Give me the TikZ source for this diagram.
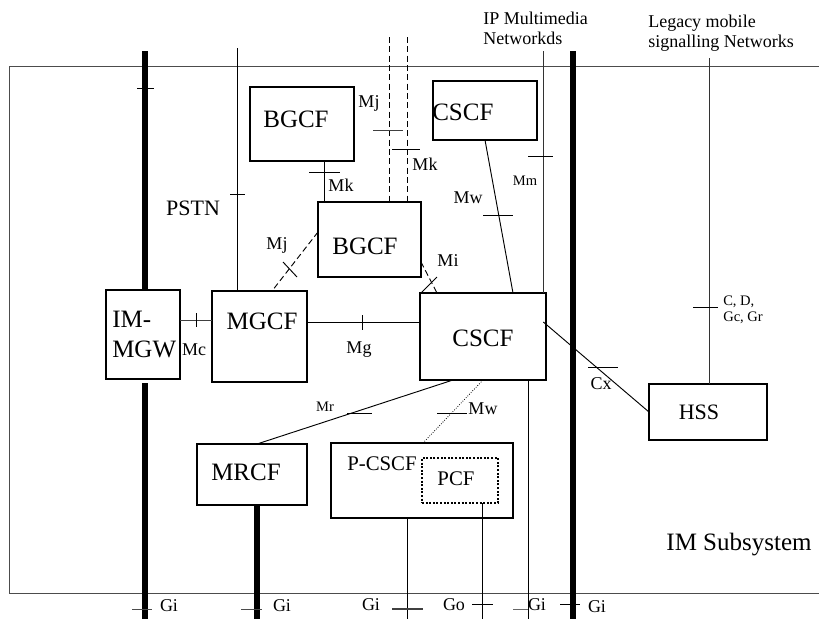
\documentclass[tikz,border=0pt]{standalone}
\usepackage{fontspec}
\setmainfont{Liberation Serif}
\begin{document}
\begin{tikzpicture}[x=0.75pt,y=-0.75pt,
  box/.style={draw, line width=1.1pt, inner sep=0pt, outer sep=0pt},
  conn/.style={line width=0.7pt},
  heavy/.style={line width=4.9pt},
  tickmark/.style={line width=0.7pt},
  dashline/.style={conn, dash pattern=on 4.5pt off 2.5pt},
  dotline/.style={line width=0.6pt, dash pattern=on 0.6pt off 1.2pt},
  pcfbox/.style={draw, line width=1.5pt, dash pattern=on 1.5pt off 1.2pt, inner sep=0pt, outer sep=0pt},
  big/.style={font=\fontsize{18.75}{22.5}\selectfont, inner sep=0pt},
  mid/.style={font=\fontsize{16.5}{19}\selectfont, inner sep=0pt},
  pmid/.style={font=\fontsize{15.6}{18}\selectfont, inner sep=0pt},
  lab/.style={font=\fontsize{13.5}{15}\selectfont, inner sep=0pt},
  sml/.style={font=\fontsize{10.9}{12}\selectfont, inner sep=0pt, align=left},
]
\useasboundingbox (0,0) rectangle (819,619);

% outer frame of the IM subsystem
\draw[conn, black!70] (819,66) -- (9,66) -- (9,593) -- (819,593);

% boxes
\node[box, minimum width=55.5pt, minimum height=66.75pt] (mgw) at (143,334.5) {};
\node[box, minimum width=71.25pt, minimum height=68.25pt] (mgcf) at (259.5,336.5) {};
\node[box, minimum width=78pt, minimum height=55.5pt] (bgcfa) at (302,124) {};
\node[box, minimum width=77.25pt, minimum height=56.25pt] (bgcfb) at (369.5,239.5) {};
\node[box, minimum width=78pt, minimum height=44.25pt] (cscfa) at (485,110.5) {};
\node[box, minimum width=94.5pt, minimum height=65.25pt] (cscf) at (483,336.5) {};
\node[box, minimum width=88.5pt, minimum height=42pt] (hss) at (708,412) {};
\node[box, minimum width=82.5pt, minimum height=45.75pt] (mrcf) at (252,474.5) {};
\node[box, line width=0.8pt, minimum width=136.5pt, minimum height=56.25pt] (pcscf) at (422,480.5) {};
\node[pcfbox, minimum width=57pt, minimum height=33.75pt] (pcf) at (460,480.5) {};

% box texts
\node[big, align=left, anchor=west] (tmgw) at (112,334) {IM-\\MGW};
\node[big] (tmgcf) at (262,321) {MGCF};
\node[big] (tbgcfa) at (296,119) {BGCF};
\node[big] (tbgcfb) at (365,246) {BGCF};
\node[big, anchor=west] (tcscfa) at (432,112) {CSCF};
\node[big] (tcscf) at (483,338) {CSCF};
\node[mid] (thss) at (699,412) {HSS};
\node[big] (tmrcf) at (246,472) {MRCF};
\node[pmid] (tpcscf) at (382,464) {P-CSCF};
\node[pmid] (tpcf) at (456,479) {PCF};

% coordinates for free ends and levels
\coordinate (pstnT) at (237,48);
\coordinate (thickaT) at (145,51);
\coordinate (thickaB) at (145,619);
\coordinate (djT) at (389,37);
\coordinate (dkT) at (407,37);
\coordinate (mmT) at (543,51);
\coordinate (thickbT) at (573,51);
\coordinate (thickbB) at (573,619);
\coordinate (legT) at (709,58);
\coordinate (bot) at (0,619);
\coordinate (mcY) at (0,320);
\coordinate (mgY) at (0,322);
\coordinate (mkX) at (324,0);
\coordinate (mjY) at (0,232);
\coordinate (mjX) at (272,0);
\coordinate (miY) at (0,262);
\coordinate (miX) at (437,0);
\coordinate (mwaX) at (485,0);
\coordinate (mwbX) at (513,0);
\coordinate (cxY) at (0,322);
\coordinate (hssY) at (0,412);
\coordinate (mrX) at (453,0);
\coordinate (mrcfX) at (257,0);
\coordinate (mwcX) at (483,0);
\coordinate (pcsX) at (423,0);
\coordinate (giX) at (407,0);
\coordinate (goX) at (482,0);
\coordinate (gmX) at (528,0);

% heavy lines
\draw[heavy] (thickaT) -- (thickaT |- mgw.north);
\draw[heavy] ([yshift=-3pt]thickaT |- mgw.south) -- (thickaB);
\draw[heavy] (thickbT) -- (thickbB);
\draw[heavy] (mrcfX |- mrcf.south) -- (mrcfX |- bot);

% thin connectors
\draw[conn] (pstnT) -- (pstnT |- mgcf.north);
\draw[conn, black!75] (mgw.east |- mcY) -- (mgcf.west |- mcY);
\draw[conn] (mgcf.east |- mgY) -- (cscf.west |- mgY);
\draw[conn] (mkX |- bgcfa.south) -- (mkX |- bgcfb.north);
\draw[dashline] (djT) -- (djT |- bgcfb.north);
\draw[dashline] (dkT) -- (dkT |- bgcfb.north);
\draw[dashline] (bgcfb.west |- mjY) -- (mjX |- mgcf.north);
\draw[dashline] (bgcfb.east |- miY) -- (miX |- cscf.north);
\draw[conn] (mwaX |- cscfa.south) -- (mwbX |- cscf.north);
\draw[conn, black!80] (mmT) -- (mmT |- cscf.north);
\draw[conn, black!80] (legT) -- (legT |- hss.north);
\draw[conn] ([xshift=-2pt]cscf.east |- cxY) -- (hss.west |- hssY);
\draw[conn] (mrX |- cscf.south) -- (mrcfX |- mrcf.north);
\draw[dotline] (mwcX |- cscf.south) -- (pcsX |- pcscf.north);
\draw[conn] (giX |- pcscf.south) -- (giX |- bot);
\draw[conn] (goX |- pcf.south) -- (goX |- bot);
\draw[conn] (gmX |- cscf.south) -- (gmX |- bot);

% tick marks
\draw[tickmark] (137,88) -- (154,88);
\draw[tickmark] (230,194) -- (245,194);
\draw[tickmark] (196,313) -- (196,327);
\draw[tickmark] (362,315) -- (362,330);
\draw[tickmark] (309,172) -- (340,172);
\draw[tickmark, black!75] (373,130) -- (403,130);
\draw[tickmark] (392,149) -- (420,149);
\draw[tickmark] (283,262) -- (297,277);
\draw[tickmark] (421,293) -- (437,277);
\draw[tickmark] (483,215) -- (513,215);
\draw[tickmark] (528,156) -- (553,156);
\draw[tickmark] (693,307) -- (718,307);
\draw[tickmark] (588,367) -- (618,367);
\draw[tickmark] (347,413) -- (372,413);
\draw[tickmark] (437,413) -- (467,413);
% bottom ticks
\draw[tickmark, black!70] (132,609) -- (152,609);
\draw[tickmark, black!70] (241,609) -- (262,609);
\draw[line width=1.1pt, black!75] (392,609) -- (423,609);
\draw[tickmark] (472,604) -- (493,604);
\draw[tickmark, black!60] (513,609) -- (528,609);
\draw[tickmark] (560,604) -- (580,604);

% interface labels
\node[mid] (lpstn) at (193,208) {PSTN};
\node[lab] (lmja) at (369,103) {Mj};
\node[lab] (lmka) at (341,185) {Mk};
\node[lab] (lmkb) at (425,164) {Mk};
\node[lab] (lmjb) at (277,245) {Mj};
\node[lab] (lmi) at (448,261) {Mi};
\node[lab] (lmwa) at (468,198) {Mw};
\node[sml] (lmm) at (525,181) {Mm};
\node[lab] (lmc) at (194,350) {Mc};
\node[lab] (lmg) at (359,350) {Mg};
\node[sml] (lmr) at (325,407) {Mr};
\node[lab] (lmwb) at (483,409) {Mw};
\node[lab] (lcx) at (601,384) {Cx};
\node[sml, anchor=west] (lcd) at (723,310) {C, D,\\Gc, Gr};
\node[lab, align=left, anchor=west] (lip) at (483,28) {IP Multimedia\\Networkds};
\node[lab, align=left, anchor=west] (lleg) at (648,33) {Legacy mobile\\signalling Networks};
\node[big] (lims) at (739,545) {IM Subsystem};
% bottom labels
\node[lab] (lgia) at (169,606) {Gi};
\node[lab] (lgib) at (282,606) {Gi};
\node[lab] (lgic) at (371,605) {Gi};
\node[lab] (lgo) at (454,605) {Go};
\node[lab] (lgid) at (537,605) {Gi};
\node[lab] (lgie) at (597,607) {Gi};
\end{tikzpicture}
\end{document}
